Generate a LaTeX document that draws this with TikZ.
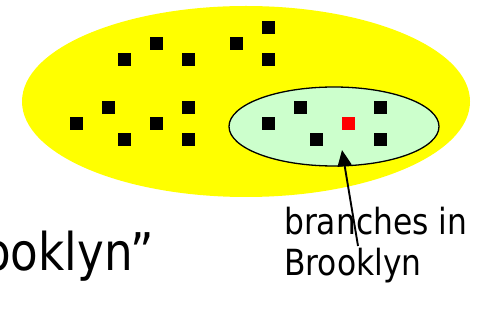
\documentclass[tikz,border=0pt]{standalone}
\usepackage{fontspec}
\setmainfont{DejaVu Sans}[FakeStretch=0.87]
\usetikzlibrary{arrows.meta,shapes.geometric}
\definecolor{lightgreen}{HTML}{CCFFCC}
\definecolor{setyellow}{HTML}{FFFF00}
\definecolor{pointred}{HTML}{FF0000}
\tikzset{
  dot/.style={fill=black, minimum size=13pt, inner sep=0pt, draw=none, rectangle},
  reddot/.style={dot, fill=pointred},
  bigtext/.style={font=\fontsize{52}{60}\selectfont, inner sep=0pt, anchor=base west},
  labeltext/.style={font=\fontsize{36}{41}\selectfont, inner sep=0pt, align=left, anchor=base west},
  pointer/.style={line width=1.9pt, -{Triangle[length=16pt,width=14pt]}}
}
\begin{document}
\begin{tikzpicture}[x=1pt,y=-1pt]
\useasboundingbox (0,0) rectangle (479,328);
\begin{scope}
\clip (0,0) rectangle (479,328);
% yellow set
\fill[setyellow] (246,101.5) ellipse [x radius=224, y radius=95.5];
% green subset
\node[draw=black, line width=1.3pt, fill=lightgreen, ellipse, minimum width=210pt, minimum height=79pt, inner sep=0pt] (sub) at (334,126.5) {};
% squares
\node[dot] (d1) at (268.7,27.7) {};
\node[dot] (d2) at (156,43.7) {};
\node[dot] (d3) at (236,43.7) {};
\node[dot] (d4) at (124,60) {};
\node[dot] (d5) at (188,60) {};
\node[dot] (d6) at (268.7,60) {};
\node[dot] (d7) at (108,107.7) {};
\node[dot] (d8) at (188,107.7) {};
\node[dot] (d9) at (300,107.7) {};
\node[dot] (d10) at (380,107.7) {};
\node[dot] (d11) at (76,123.7) {};
\node[dot] (d12) at (156,123.7) {};
\node[dot] (d13) at (268,123.7) {};
\node[reddot] (r) at (348,123.7) {};
\node[dot] (d14) at (124,139.7) {};
\node[dot] (d15) at (188,139.7) {};
\node[dot] (d16) at (316,139.7) {};
\node[dot] (d17) at (380,139.7) {};
% texts
\node[bigtext] (main) at (-17,271) {ooklyn”};
\node[labeltext] (lab) at (284,276) {branches in\\Brooklyn};
\coordinate (tip) at (342,150);
\coordinate (tail) at (358,246);
\draw[pointer] (tail) -- (tip);
\end{scope}
\end{tikzpicture}
\end{document}
